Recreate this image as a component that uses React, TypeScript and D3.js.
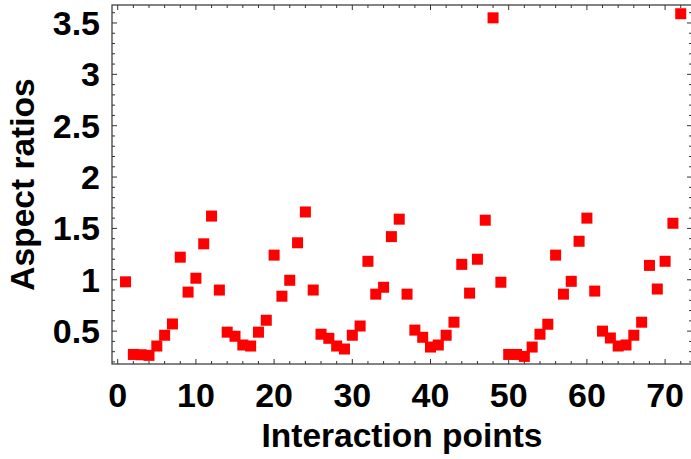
import React from "react";
import * as d3 from "d3";

const interactionPoints: number[] = Array.from({ length: 72 }, (_, i) => i + 1);
const aspectRatios: number[] = [
  0.98, 0.273, 0.27, 0.264, 0.355, 0.46, 0.57, 1.22, 0.88, 1.015,
  1.35, 1.62, 0.9, 0.49, 0.45, 0.365, 0.355, 0.49, 0.606, 1.24,
  0.84, 0.995, 1.36, 1.66, 0.9, 0.47, 0.43, 0.355, 0.326, 0.46,
  0.55, 1.18, 0.86, 0.927, 1.42, 1.59, 0.86, 0.51, 0.44, 0.345,
  0.365, 0.46, 0.587, 1.15, 0.87, 1.2, 1.58, 3.55, 0.976, 0.273,
  0.273, 0.254, 0.345, 0.47, 0.567, 1.24, 0.86, 0.985, 1.375, 1.6,
  0.89, 0.5, 0.433, 0.355, 0.365, 0.46, 0.587, 1.14, 0.91, 1.18,
  1.55, 3.59,
];
const xMajorTicks: number[] = [0, 10, 20, 30, 40, 50, 60, 70];
const yMajorTicks: number[] = [0.5, 1, 1.5, 2, 2.5, 3, 3.5];
const yTickLabels: string[] = ["0.5", "1", "1.5", "2", "2.5", "3", "3.5"];
const xTitle = "Interaction points";
const yTitle = "Aspect ratios";

const W = 691, H = 459;
const L = 112, R = 692, T = 5, B = 364;

export default function App() {
  const x = d3.scaleLinear().domain([-0.73, 73.44]).range([L, R]);
  const y = d3.scaleLinear().domain([0.18, 3.675]).range([B, T]);
  const xMinor = d3.range(0, 74, 2).filter((v) => v % 10 !== 0);
  const yMinor = d3.range(2, 37).map((v) => v / 10).filter((v) => Math.round(v * 10) % 5 !== 0);
  const font = "'Liberation Sans', Arial, sans-serif";
  const frame = "#333";
  const maj = 5, mnr = 3;
  const s = 11;
  return (
    <svg width={W} height={H} style={{ position: "absolute", left: 0, top: 0, background: "#fff" }}>
      <rect x={0} y={0} width={W} height={H} fill="#fff" />
      {/* frame */}
      <rect x={L} y={T} width={R - L} height={B - T} fill="none" stroke={frame} strokeWidth={1.2} />
      {/* x ticks */}
      {xMajorTicks.map((v) => (
        <g key={"xm" + v}>
          <line x1={x(v)} x2={x(v)} y1={B} y2={B - maj} stroke={frame} />
          <line x1={x(v)} x2={x(v)} y1={T} y2={T + maj} stroke={frame} />
          <text x={x(v)} y={407} textAnchor="middle" fontFamily={font} fontWeight="bold" fontSize={34}>{v}</text>
        </g>
      ))}
      {xMinor.map((v) => (
        <g key={"xn" + v}>
          <line x1={x(v)} x2={x(v)} y1={B} y2={B - mnr} stroke={frame} />
          <line x1={x(v)} x2={x(v)} y1={T} y2={T + mnr} stroke={frame} />
        </g>
      ))}
      {/* y ticks */}
      {yMajorTicks.map((v, i) => (
        <g key={"ym" + v}>
          <line x1={L} x2={L + maj} y1={y(v)} y2={y(v)} stroke={frame} />
          <line x1={R} x2={R - maj} y1={y(v)} y2={y(v)} stroke={frame} />
          <text x={100} y={y(v) + 12} textAnchor="end" fontFamily={font} fontWeight="bold" fontSize={34}>{yTickLabels[i]}</text>
        </g>
      ))}
      {yMinor.map((v) => (
        <g key={"yn" + v}>
          <line x1={L} x2={L + mnr} y1={y(v)} y2={y(v)} stroke={frame} />
          <line x1={R} x2={R - mnr} y1={y(v)} y2={y(v)} stroke={frame} />
        </g>
      ))}
      {/* points */}
      {aspectRatios.map((v, i) => (
        <rect key={"p" + i} x={x(interactionPoints[i]) - s / 2} y={y(v) - s / 2} width={s} height={s} fill="#ff0000" />
      ))}
      {/* titles */}
      <text x={(L + 692) / 2} y={447} textAnchor="middle" fontFamily={font} fontWeight="bold" fontSize={33.5}>{xTitle}</text>
      <text transform={`translate(34, ${(T + B) / 2}) rotate(-90)`} textAnchor="middle" fontFamily={font} fontWeight="bold" fontSize={33.5}>{yTitle}</text>
    </svg>
  );
}
